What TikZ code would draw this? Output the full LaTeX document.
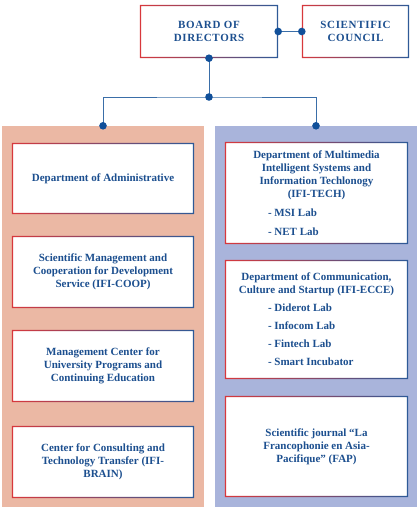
\documentclass[tikz,border=0pt]{standalone}
\usepackage{fontspec}
\setmainfont{Liberation Serif}
\usetikzlibrary{positioning,calc}

\definecolor{salmon}{HTML}{EBB8A4}
\definecolor{lavender}{HTML}{A9B4DB}
\definecolor{inkblue}{HTML}{1C4F8F}
\definecolor{linkblue}{HTML}{3A6EA8}
\definecolor{dotblue}{HTML}{11509A}
\definecolor{edgered}{HTML}{D8383C}
\definecolor{edgeblue}{HTML}{2D5A98}

\newcommand\labitem[1]{\makebox[97pt][l]{- #1}}

\begin{document}
\begin{tikzpicture}[x=1pt, y=-1pt,
  panel/.style={inner sep=0pt, minimum width=202pt, minimum height=381pt},
  unit/.style={fill=white, inner sep=0pt, align=center, text=inkblue,
    font=\bfseries\fontsize{11}{13}\selectfont},
  head/.style={unit, font=\bfseries\fontsize{11}{13}\selectfont\addfontfeatures{LetterSpace=6}},
  link/.style={draw=linkblue, line width=0.8pt},
  dot/.style={fill=dotblue}
]
\useasboundingbox (0,0) rectangle (417,509);

% Top level
\node[head, minimum width=138pt, minimum height=53pt] (board) at (209,31.5) {BOARD OF\\DIRECTORS};
\node[head, minimum width=107pt, minimum height=53pt] (council) at (355.5,31.5) {SCIENTIFIC\\COUNCIL};

% Panels
\node[panel, fill=salmon] (lpanel) at (103,316.5) {};
\node[panel, fill=lavender] (rpanel) at (316,316.5) {};

% Left column
\node[unit, minimum width=182pt, minimum height=71pt] (admin) at (103,178.5) {Department of Administrative};
\node[unit, minimum width=182pt, minimum height=72pt] (coop) at (103,272) {Scientific Management and\\Cooperation for Development\\Service (IFI-COOP)};
\node[unit, minimum width=182pt, minimum height=72pt] (edu) at (103,366) {Management Center for\\University Programs and\\Continuing Education};
\node[unit, minimum width=182pt, minimum height=72pt] (brain) at (103,462) {Center for Consulting and\\Technology Transfer (IFI-\\BRAIN)};

% Right column
\node[unit, minimum width=183pt, minimum height=102pt] (tech) at (316.5,193) {Department of Multimedia\\Intelligent Systems and\\Information Techlonogy\\(IFI-TECH)\\[6pt]\labitem{MSI Lab}\\[6pt]\labitem{NET Lab}};
\node[unit, minimum width=183pt, minimum height=119pt] (ecce) at (316.5,319.5) {Department of Communication,\\Culture and Startup (IFI-ECCE)\\[5pt]\labitem{Diderot Lab}\\[5pt]\labitem{Infocom Lab}\\[5pt]\labitem{Fintech Lab}\\[5pt]\labitem{Smart Incubator}};
\node[unit, minimum width=183pt, minimum height=101pt] (fap) at (316.5,446.5) {Scientific journal ``La\\Francophonie en Asia-\\Pacifique'' (FAP)};

% Box borders, red to blue
\foreach \n in {board,council,admin,coop,edu,brain,tech,ecce,fap}
  \shade[left color=edgered, right color=edgeblue, even odd rule]
    (\n.south west) rectangle (\n.north east)
    ([shift={(1.4pt,1.4pt)}]\n.south west) rectangle ([shift={(-1.4pt,-1.4pt)}]\n.north east);

% Connectors
\coordinate (hub) at (209,97);
\draw[link] (board.east) -- (council.west);
\draw[link] (board.south) -- (hub);
\draw[link] (lpanel.north) |- (hub) -| (rpanel.north);
\foreach \p in {board.east,council.west,board.south,hub,lpanel.north,rpanel.north}
  \fill[dot] (\p) circle (3.8pt);

\end{tikzpicture}
\end{document}
